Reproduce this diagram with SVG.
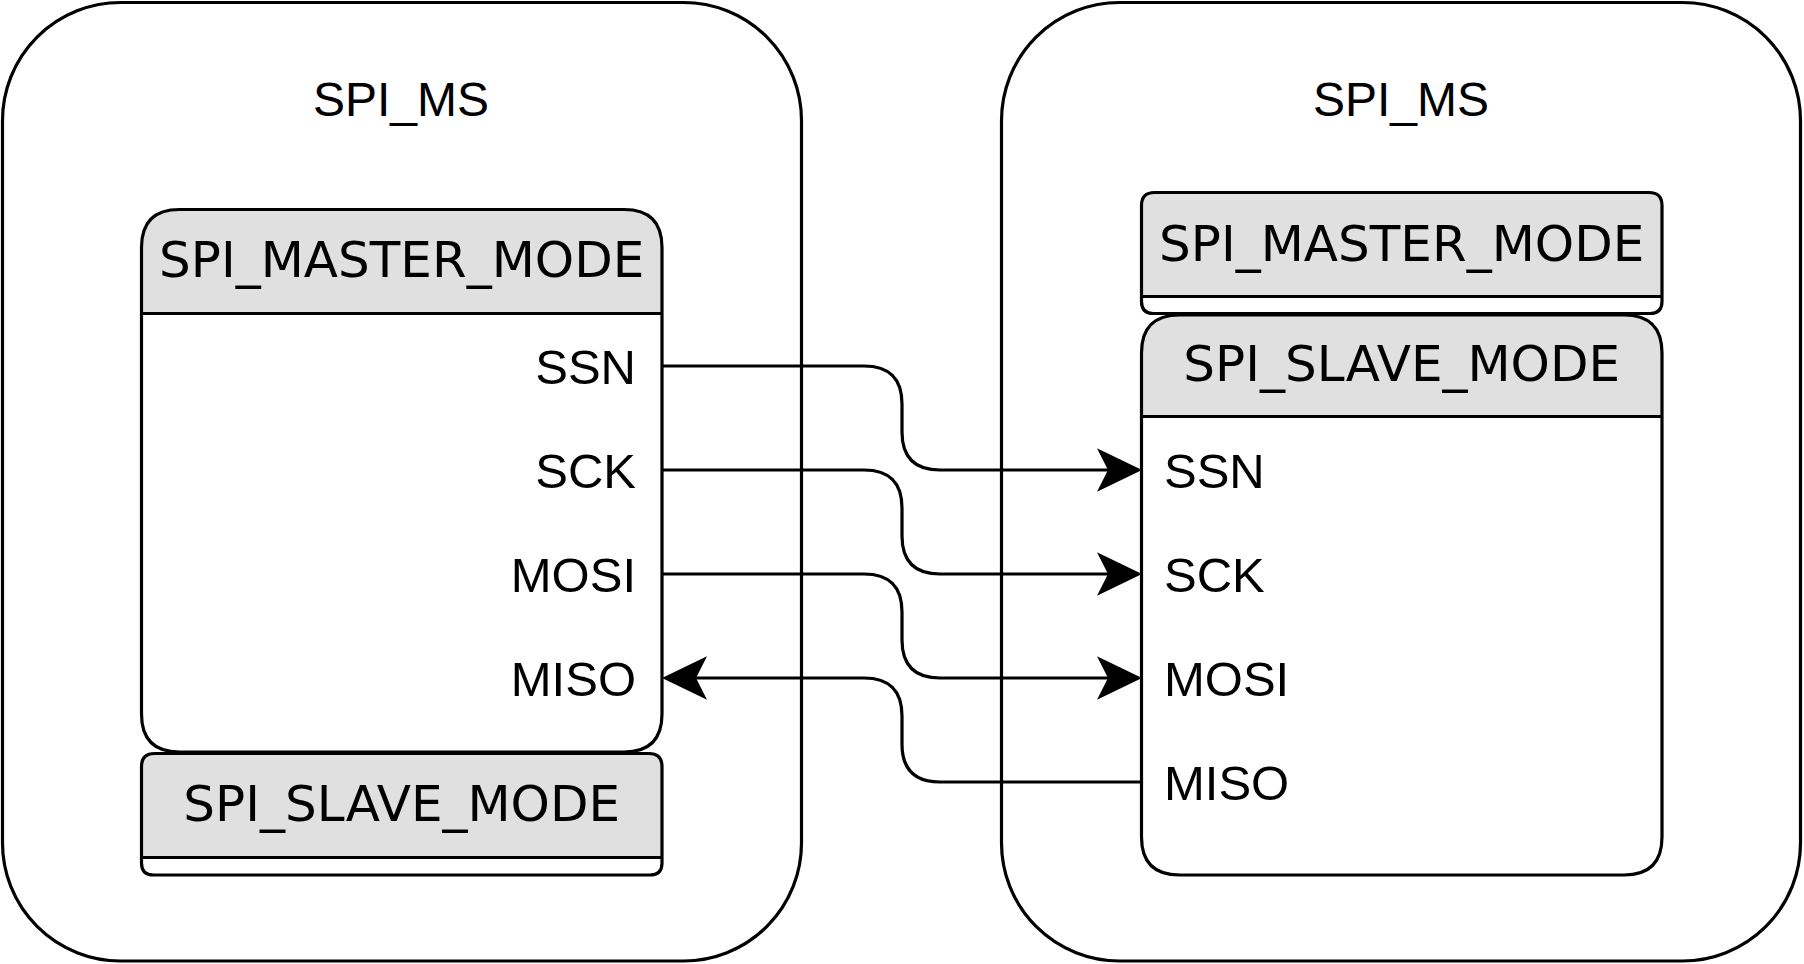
<svg xmlns="http://www.w3.org/2000/svg" width="1804" height="964" viewBox="0 0 1804 964">
<defs>
<style>
.outer{fill:#fff;stroke:#000;stroke-width:3.2}
.hdr{fill:#e0e0e0}
.body{fill:#fff}
.line{fill:none;stroke:#000;stroke-width:3.2}
.ttl{font-family:"Liberation Sans",Arial,sans-serif;font-size:48px;fill:#000;text-anchor:middle}
.mode{font-family:"DejaVu Sans",Verdana,sans-serif;font-size:50px;fill:#000;text-anchor:middle}
.port{font-family:"Liberation Sans",Arial,sans-serif;font-size:49px;fill:#000}
.conn{fill:none;stroke:#000;stroke-width:3.2}
</style>
<marker id="arr" markerUnits="userSpaceOnUse" viewBox="-12 -23 48 46" markerWidth="48" markerHeight="46" refX="0" refY="0" orient="auto" overflow="visible">
<path d="M34,0 L-11,-21.7 L0,0 L-11,21.7 Z" fill="#000" stroke="none"/>
</marker>
</defs>

<g id="left-container">
<rect class="outer" x="2.5" y="2.5" width="799" height="958.5" rx="118" ry="118"/>
<text class="ttl" x="401" y="116">SPI_MS</text>
</g>

<g id="right-container">
<rect class="outer" x="1001.5" y="2.5" width="799" height="958.5" rx="118" ry="118"/>
<text class="ttl" x="1401" y="116">SPI_MS</text>
</g>

<g id="left-master">
<path class="hdr" d="M141.5,313.5 V247.5 Q141.5,209.5 179.5,209.5 H624 Q662,209.5 662,247.5 V313.5 Z"/>
<path class="body" d="M141.5,313.5 H662 V714 Q662,752 624,752 H179.5 Q141.5,752 141.5,714 Z"/>
<path class="line" d="M141.5,313.5 V247.5 Q141.5,209.5 179.5,209.5 H624 Q662,209.5 662,247.5 V714 Q662,752 624,752 H179.5 Q141.5,752 141.5,714 Z M141.5,313.5 H662"/>
<text class="mode" x="401.7" y="277">SPI_MASTER_MODE</text>
<text class="port" x="636" y="384" text-anchor="end">SSN</text>
<text class="port" x="636" y="488" text-anchor="end">SCK</text>
<text class="port" x="636" y="592" text-anchor="end">MOSI</text>
<text class="port" x="636" y="696" text-anchor="end">MISO</text>
</g>

<g id="left-slave">
<path class="hdr" d="M141.5,857.5 V766.5 Q141.5,753.5 154.5,753.5 H649 Q662,753.5 662,766.5 V857.5 Z"/>
<path class="line" d="M141.5,857.5 V766.5 Q141.5,753.5 154.5,753.5 H649 Q662,753.5 662,766.5 V863 Q662,875 650,875 H153.5 Q141.5,875 141.5,863 Z M141.5,857.5 H662"/>
<text class="mode" x="401.7" y="821">SPI_SLAVE_MODE</text>
</g>

<g id="right-master">
<path class="hdr" d="M1141.5,296.5 V205.5 Q1141.5,192.5 1154.5,192.5 H1649 Q1662,192.5 1662,205.5 V296.5 Z"/>
<path class="line" d="M1141.5,296.5 V205.5 Q1141.5,192.5 1154.5,192.5 H1649 Q1662,192.5 1662,205.5 V301.5 Q1662,313.5 1650,313.5 H1153.5 Q1141.5,313.5 1141.5,301.5 Z M1141.5,296.5 H1662"/>
<text class="mode" x="1401.7" y="261">SPI_MASTER_MODE</text>
</g>

<g id="right-slave">
<path class="hdr" d="M1141.5,416.5 V353 Q1141.5,315 1179.5,315 H1624 Q1662,315 1662,353 V416.5 Z"/>
<path class="body" d="M1141.5,416.5 H1662 V837 Q1662,875 1624,875 H1179.5 Q1141.5,875 1141.5,837 Z"/>
<path class="line" d="M1141.5,416.5 V353 Q1141.5,315 1179.5,315 H1624 Q1662,315 1662,353 V837 Q1662,875 1624,875 H1179.5 Q1141.5,875 1141.5,837 Z M1141.5,416.5 H1662"/>
<text class="mode" x="1401.7" y="381">SPI_SLAVE_MODE</text>
<text class="port" x="1164" y="488">SSN</text>
<text class="port" x="1164" y="592">SCK</text>
<text class="port" x="1164" y="696">MOSI</text>
<text class="port" x="1164" y="800">MISO</text>
</g>

<g id="connectors">
<path class="conn" marker-end="url(#arr)" d="M662,366 H864 Q902,366 902,404 V432 Q902,470 940,470 H1108"/>
<path class="conn" marker-end="url(#arr)" d="M662,470 H864 Q902,470 902,508 V536 Q902,574 940,574 H1108"/>
<path class="conn" marker-end="url(#arr)" d="M662,574 H864 Q902,574 902,612 V640 Q902,678 940,678 H1108"/>
<path class="conn" marker-end="url(#arr)" d="M1142,782 H940 Q902,782 902,744 V716 Q902,678 864,678 H696"/>
</g>
</svg>
